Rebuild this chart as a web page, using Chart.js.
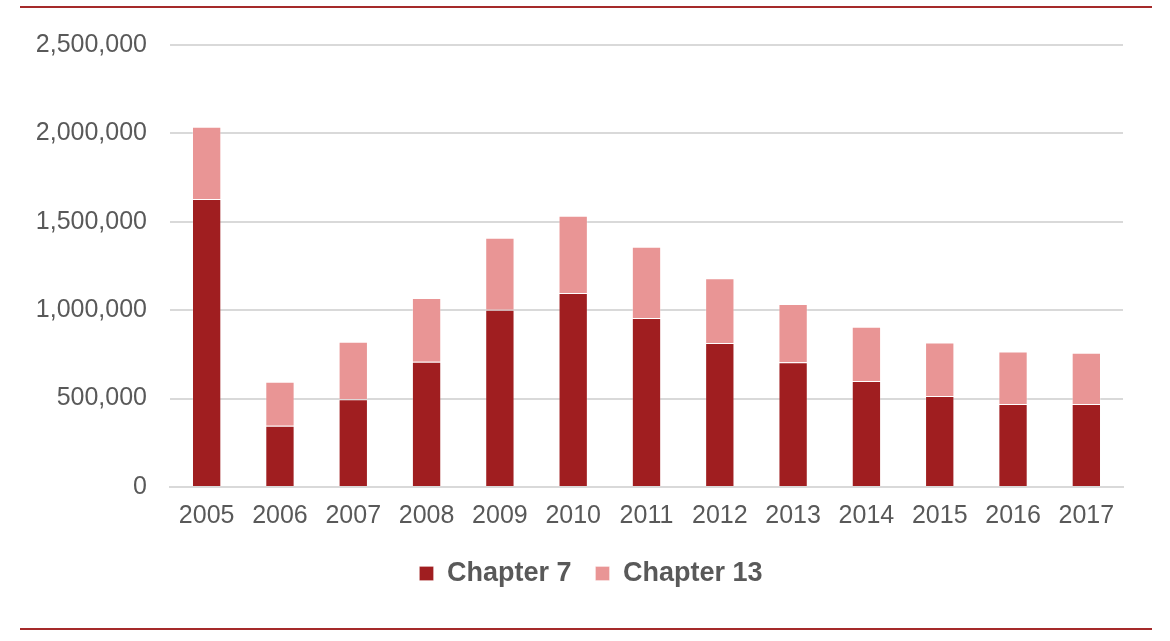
<!DOCTYPE html>
<html>
<head>
<meta charset="utf-8">
<script src="https://cdn.jsdelivr.net/npm/chart.js@4"></script>
<style>
  body { margin: 0; background: #fff; }
  .rule { position: absolute; left: 20px; width: 1132px; height: 2px; background: #a52a2a; }
  #wrap { position: absolute; left: 0; top: 0; width: 1170px; height: 641px; }
</style>
</head>
<body>
<div class="rule" style="top:6px"></div>
<div class="rule" style="top:628px"></div>
<div id="wrap"><canvas id="myChart"></canvas></div>
<script>
// setup
const years = ['2005', '2006', '2007', '2008', '2009', '2010', '2011', '2012', '2013', '2014', '2015', '2016', '2017'];
const chapter7 = [1629000, 347000, 496000, 709000, 1003000, 1097000, 956000, 815000, 705000, 600000, 515000, 470000, 470000];
const chapter13 = [409000, 249000, 326000, 360000, 407000, 437000, 403000, 366000, 330000, 306000, 302000, 296000, 290000];
const yTicks = [0, 500000, 1000000, 1500000, 2000000, 2500000];

const data = {
  labels: years,
  datasets: [{
    label: 'Chapter 7',
    data: chapter7,
    backgroundColor: '#a01e20',
    borderColor: 'rgba(255,255,255,0.2)',
    borderWidth: 1
  },
  {
    label: 'Chapter 13',
    data: chapter13,
    backgroundColor: '#e99595',
    borderColor: 'rgba(255,255,255,0.3)',
    borderWidth: 1
  }]
};

// config
const config = {
  type: 'bar',
  data,
  options: {
    responsive: true,
    maintainAspectRatio: false,
    animation: false,
    datasets: {
      bar: { categoryPercentage: 1, barPercentage: 0.4 }
    },
    layout: {
      padding: { left: 30, right: 18, top: 45, bottom: 44 }
    },
    plugins: {
      tooltip: { enabled: false },
      legend: {
        position: 'bottom',
        labels: {
          boxWidth: 14,
          boxHeight: 14,
          padding: 24,
          color: '#595959',
          font: { family: 'Liberation Sans, Arial, sans-serif', size: 27, weight: 'bold' }
        }
      }
    },
    scales: {
      x: {
        stacked: true,
        afterFit: (scale) => { scale.height = scale.height - 9; },
        grid: { display: false, drawTicks: false },
        border: { color: '#d9d9d9', width: 2 },
        ticks: {
          color: '#595959',
          padding: 14,
          font: { family: 'Liberation Sans, Arial, sans-serif', size: 25 }
        }
      },
      y: {
        stacked: true,
        min: 0,
        max: 2500000,
        afterBuildTicks: (scale) => { scale.ticks = yTicks.map(v => ({ value: v })); },
        afterFit: (scale) => { scale.width = 140; },
        grid: { color: '#d9d9d9', lineWidth: 2, drawTicks: false },
        border: { display: false },
        ticks: {
          color: '#595959',
          padding: 23,
          font: { family: 'Liberation Sans, Arial, sans-serif', size: 25 },
          callback: (v) => v.toLocaleString('en-US')
        }
      },
      // empty right-hand spacer so the legend sits where it does in the original
      spacer: {
        axis: 'y',
        position: 'right',
        grid: { display: false, drawTicks: false },
        border: { display: false },
        ticks: { display: false },
        afterFit: (scale) => { scale.width = 29; }
      }
    }
  }
};

// render init block
const myChart = new Chart(document.getElementById('myChart'), config);
</script>
</body>
</html>
